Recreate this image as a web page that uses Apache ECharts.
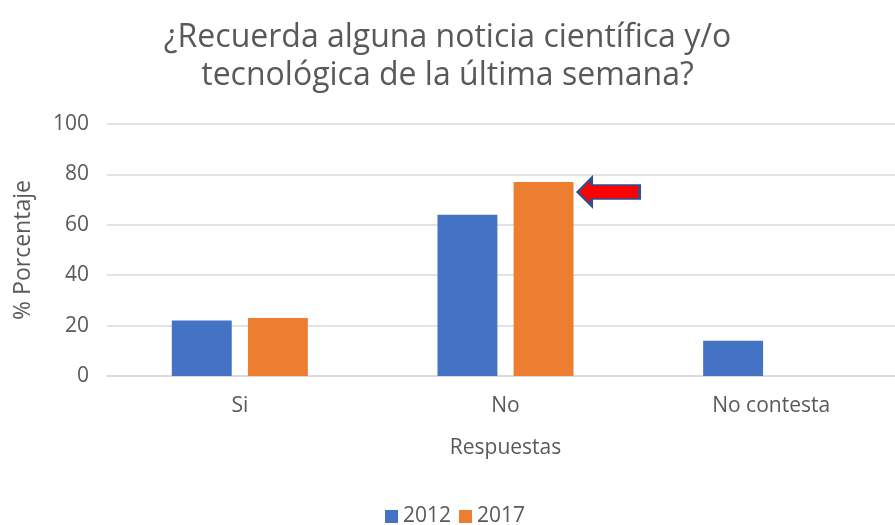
<!DOCTYPE html>
<head>
    <meta charset="utf-8">
    <title>ECharts</title>
</head>
<body style="margin:0">
<div id="main" style="width:895px;height:525px"></div>
<script src="https://cdn.jsdelivr.net/npm/echarts@6/dist/echarts.min.js"></script>
<script type="text/javascript">
// datos
var categorias = ['Si', 'No', 'No contesta'];
var anios = ['2012', '2017'];
var datos2012 = [22, 64, 14];
var datos2017 = [23, 77, 0];
var yTicks = [0, 20, 40, 60, 80, 100];

var gris = '#595959';
var fuente = "'Segoe UI', 'Open Sans', sans-serif";

var myChart = echarts.init(document.getElementById('main'));

var option = {
    textStyle: {fontFamily: fuente},
    title: {
        text: '¿Recuerda alguna noticia científica y/o\ntecnológica de la última semana?',
        left: 'center',
        top: 14,
        textStyle: {
            color: gris,
            fontSize: 32,
            fontWeight: 'normal',
            lineHeight: 38,
            fontFamily: fuente
        }
    },
    legend: {
        data: anios,
        left: 380,
        bottom: -7,
        itemWidth: 13,
        itemHeight: 13,
        itemGap: 8,
        icon: 'rect',
        textStyle: {color: gris, fontSize: 21, fontFamily: fuente}
    },
    grid: {
        left: 107,
        width: 797,
        top: 124,
        bottom: 149,
        containLabel: false,
        outerBoundsMode: 'none'
    },
    xAxis: {
        type: 'category',
        data: categorias,
        name: 'Respuestas',
        nameLocation: 'middle',
        nameGap: 62,
        nameTextStyle: {color: gris, fontSize: 21},
        axisLine: {lineStyle: {color: '#D9D9D9', width: 1.5}},
        axisTick: {show: false},
        axisLabel: {color: gris, fontSize: 21, margin: 20}
    },
    yAxis: {
        type: 'value',
        min: yTicks[0],
        max: yTicks[yTicks.length - 1],
        interval: 20,
        name: '% Porcentaje',
        nameLocation: 'middle',
        nameGap: 72,
        nameTextStyle: {color: gris, fontSize: 23},
        axisLine: {show: false},
        axisTick: {show: false},
        axisLabel: {color: gris, fontSize: 21, margin: 18},
        splitLine: {lineStyle: {color: '#D9D9D9', width: 1.5}}
    },
    series: [
        {
            name: '2012',
            type: 'bar',
            data: datos2012,
            barGap: '27%',
            barCategoryGap: '48.8%',
            itemStyle: {color: '#4472C4'}
        },
        {
            name: '2017',
            type: 'bar',
            data: datos2017,
            itemStyle: {color: '#ED7D31'},
            markPoint: {
                silent: true,
                data: [{coord: ['No', 77]}],
                symbol: 'path://M0,14 L14,0 L14,7 L62,7 L62,21 L14,21 L14,28 Z',
                symbolSize: [62, 28],
                symbolKeepAspect: false,
                symbolOffset: [65, 10],
                itemStyle: {color: '#FF0000', borderColor: '#2F528F', borderWidth: 2},
                label: {show: false}
            }
        }
    ]
};
myChart.setOption(option);
</script>
</body>
